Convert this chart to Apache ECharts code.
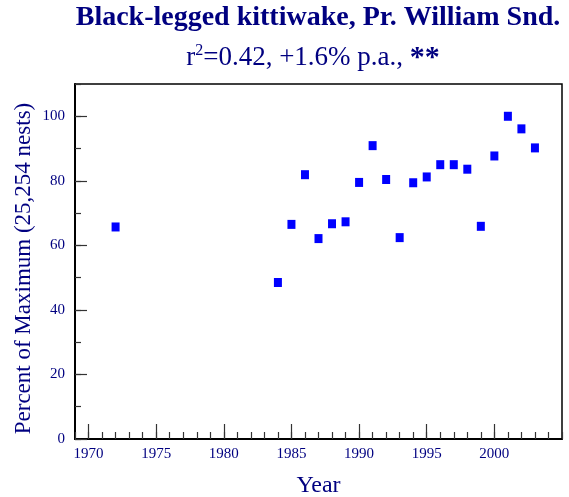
<!DOCTYPE html>
<html>
<head>
<meta charset="utf-8">
<script src="https://cdn.jsdelivr.net/npm/echarts@6/dist/echarts.min.js"></script>
<style>html,body{margin:0;padding:0;background:#fff}#c{width:569px;height:497px}</style>
</head>
<body>
<div id="c"></div>
<script>
var years = [1972,1984,1985,1986,1987,1988,1989,1990,1991,1992,1993,1994,1995,1996,1997,1998,1999,2000,2001,2002,2003];
var values = [65.7,48.5,66.5,81.9,62.1,66.7,67.3,79.5,90.9,80.4,62.4,79.4,81.2,85.0,85.0,83.6,65.9,87.7,100,96.1,90.2];
var xMajorTicks = [1970,1975,1980,1985,1990,1995,2000];
var yMajorTicks = [0,20,40,60,80,100];
var titleText = 'Black-legged kittiwake, Pr. William Snd.';
var subText = '=0.42, +1.6% p.a., ';

var serif = "'Liberation Serif','Times New Roman',serif";
var navy = '#000080';
var chart = echarts.init(document.getElementById('c'), null, {renderer:'canvas'});
var gridPos = {left:75, top:84, right:7, bottom:58, containLabel:false, outerBoundsMode:'none'};
chart.setOption({
  animation:false,
  title:[
    {text:titleText, left:318, top:4, textAlign:'center', padding:0,
     textStyle:{fontFamily:serif, fontWeight:'bold', fontSize:28, color:navy}},
    {text:'{r|r}{sup|2}{t|' + subText + '}{s|**}', left:313, top:43, textAlign:'center', padding:0,
     textStyle:{fontWeight:'normal', rich:{
       r:{fontFamily:serif, fontSize:27, fontWeight:'normal', color:navy, lineHeight:30},
       sup:{fontFamily:serif, fontSize:16, fontWeight:'normal', color:navy, verticalAlign:'top', lineHeight:10},
       t:{fontFamily:serif, fontSize:27, fontWeight:'normal', color:navy, lineHeight:30},
       s:{fontFamily:serif, fontSize:30, fontWeight:'bold', color:navy, lineHeight:30}
     }}}
  ],
  grid:[
    Object.assign({show:true, borderColor:'#000', borderWidth:1.5, backgroundColor:'transparent'}, gridPos),
    Object.assign({show:false}, gridPos)
  ],
  xAxis:[
    {type:'value', gridIndex:0, min:1969, max:2005,
     name:'Year', nameLocation:'middle', nameGap:35, nameMoveOverlap:false,
     nameTextStyle:{fontFamily:serif, fontSize:24, color:navy},
     axisLine:{show:true, onZero:false, lineStyle:{color:'#000', width:2}},
     axisTick:{show:true, inside:true, length:15, customValues:xMajorTicks, lineStyle:{color:'#333', width:1.2}},
     axisLabel:{show:true, customValues:xMajorTicks, margin:8, fontFamily:serif, fontSize:15, color:navy,
       formatter:function(v){return String(v);}},
     splitLine:{show:false}},
    {type:'value', gridIndex:1, min:1969, max:2005, interval:1,
     axisLine:{show:false},
     axisTick:{show:true, inside:true, length:7, lineStyle:{color:'#333', width:1.2}},
     axisLabel:{show:false}, splitLine:{show:false}}
  ],
  yAxis:[
    {type:'value', gridIndex:0, min:0, max:110,
     name:'Percent of Maximum (25,254 nests)', nameLocation:'middle', nameGap:40, nameMoveOverlap:false,
     nameTextStyle:{fontFamily:serif, fontSize:23, color:navy, padding:[0,14,0,0]},
     axisLine:{show:true, onZero:false, lineStyle:{color:'#000', width:2}},
     axisTick:{show:true, inside:true, length:12, customValues:yMajorTicks, lineStyle:{color:'#333', width:1.2}},
     axisLabel:{show:true, customValues:yMajorTicks, margin:10, fontFamily:serif, fontSize:15, color:navy},
     splitLine:{show:false}},
    {type:'value', gridIndex:1, min:0, max:110, interval:10,
     axisLine:{show:false},
     axisTick:{show:true, inside:true, length:6, lineStyle:{color:'#333', width:1.2}},
     axisLabel:{show:false}, splitLine:{show:false}}
  ],
  series:[{
    type:'scatter', xAxisIndex:0, yAxisIndex:0,
    symbol:'rect', symbolSize:[8,9],
    itemStyle:{color:'#0000ff', opacity:1},
    data: years.map(function(y,i){return [y, values[i]];})
  }]
});
</script>
</body>
</html>
